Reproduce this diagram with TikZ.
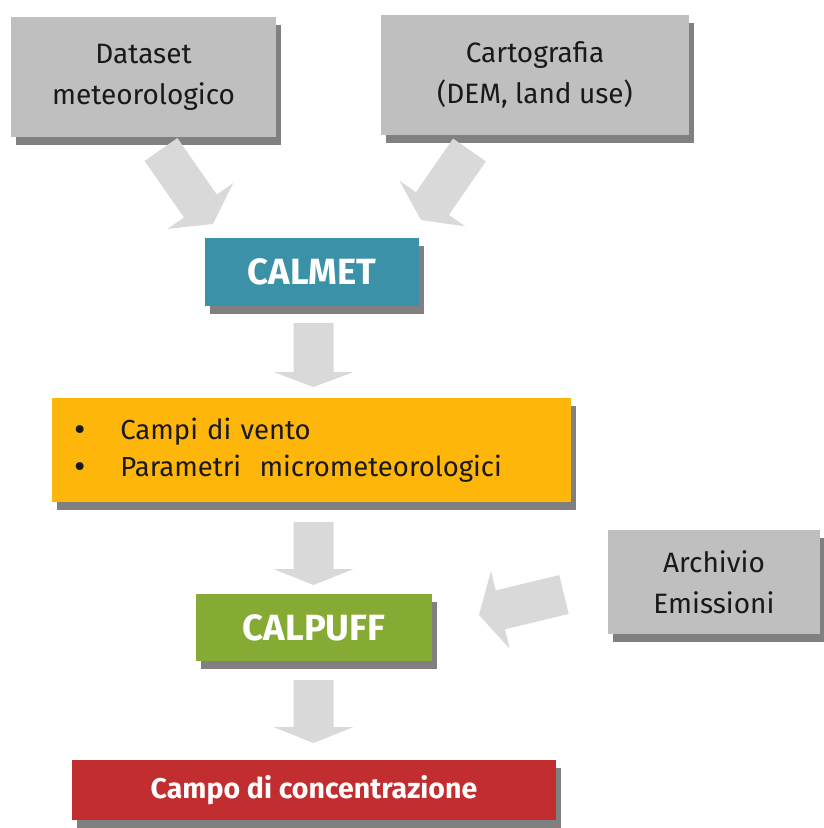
\documentclass[tikz,border=0pt]{standalone}
\usepackage{fontspec}
\setmainfont{Fira Sans}
\usetikzlibrary{shadows, calc}

\definecolor{boxgray}{HTML}{BFBFBF}
\definecolor{shadowgray}{HTML}{808080}
\definecolor{arrowgray}{HTML}{D9D9D9}
\definecolor{calmetblue}{HTML}{3A91A8}
\definecolor{outyellow}{HTML}{FFB60A}
\definecolor{calpuffgreen}{HTML}{85AB34}
\definecolor{concred}{HTML}{C22D2F}

% block arrow: start, tip, head length
\newcommand{\blockarrow}[3]{%
  \coordinate (ah) at ($(#2)!#3!(#1)$);
  \fill[arrowgray] ($(#1)!20pt!90:(#2)$) -- ($(ah)!20pt!90:(#2)$) -- ($(ah)!40pt!90:(#2)$) -- (#2)
    -- ($(ah)!40pt!-90:(#2)$) -- ($(ah)!20pt!-90:(#2)$) -- ($(#1)!20pt!-90:(#2)$) -- cycle;
}
\newcommand{\bigbullet}{\raisebox{-2pt}{\fontsize{35}{37}\selectfont\textbullet}}

\tikzset{
  box/.style={rectangle, fill=boxgray, text=black!90, align=center, font=\fontsize{28}{41}\selectfont,
    drop shadow={shadow xshift=5pt, shadow yshift=-8pt, fill=shadowgray, opacity=1}},
  model/.style={box, text=white, font=\fontsize{36.5}{40}\selectfont\bfseries}
}

\begin{document}
\begin{tikzpicture}[x=1pt, y=-1pt]
\useasboundingbox (0,0) rectangle (824,828);

% inputs
\node[box, minimum width=265pt, minimum height=120pt] (dataset) at (143.5,77) {Dataset\\meteorologico};
\node[box, minimum width=308pt, minimum height=120pt] (carto) at (535,75) {Cartografia\\(DEM, land use)};

% meteorological model
\node[model, fill=calmetblue, minimum width=214pt, minimum height=68pt] (calmet) at (312,272) {CALMET};
\node[box, fill=outyellow, minimum height=104pt, text width=475pt, inner xsep=22pt, align=left,
  font=\fontsize{27.5}{37}\selectfont] (campi) at (311.5,450)
  {\raisebox{-3pt}{\bigbullet\hspace{35pt}Campi di vento}\\\raisebox{-3pt}{\bigbullet\hspace{35pt}Parametri\ \ micrometeorologici}};

% dispersion model
\node[model, fill=calpuffgreen, minimum width=236pt, minimum height=67pt] (calpuff) at (314,627.5) {CALPUFF};
\node[box, minimum width=212pt, minimum height=104pt] (emiss) at (714,582) {Archivio\\Emissioni};
\node[model, fill=concred, font=\fontsize{28.5}{32}\selectfont\bfseries, minimum width=484pt, minimum height=60pt] (conc) at (314,790) {Campo di concentrazione};

% arrows
\coordinate (a1s) at (161,149.5);  \coordinate (a1e) at (213,224);
\coordinate (a2s) at (469.5,150);  \coordinate (a2e) at (421,220);
\coordinate (a3s) at (313.5,323);  \coordinate (a3e) at (313.5,387);
\coordinate (a4s) at (313.5,522);  \coordinate (a4e) at (313.5,585);
\coordinate (a5s) at (313.5,680);  \coordinate (a5e) at (313.5,743);
\coordinate (a6s) at (564,594.5);  \coordinate (a6e) at (479,615);
\foreach \s/\e/\h in {a1s/a1e/22pt, a2s/a2e/20pt, a3s/a3e/15pt, a4s/a4e/16pt, a5s/a5e/16pt, a6s/a6e/22pt}
  \blockarrow{\s}{\e}{\h};
\end{tikzpicture}
\end{document}
